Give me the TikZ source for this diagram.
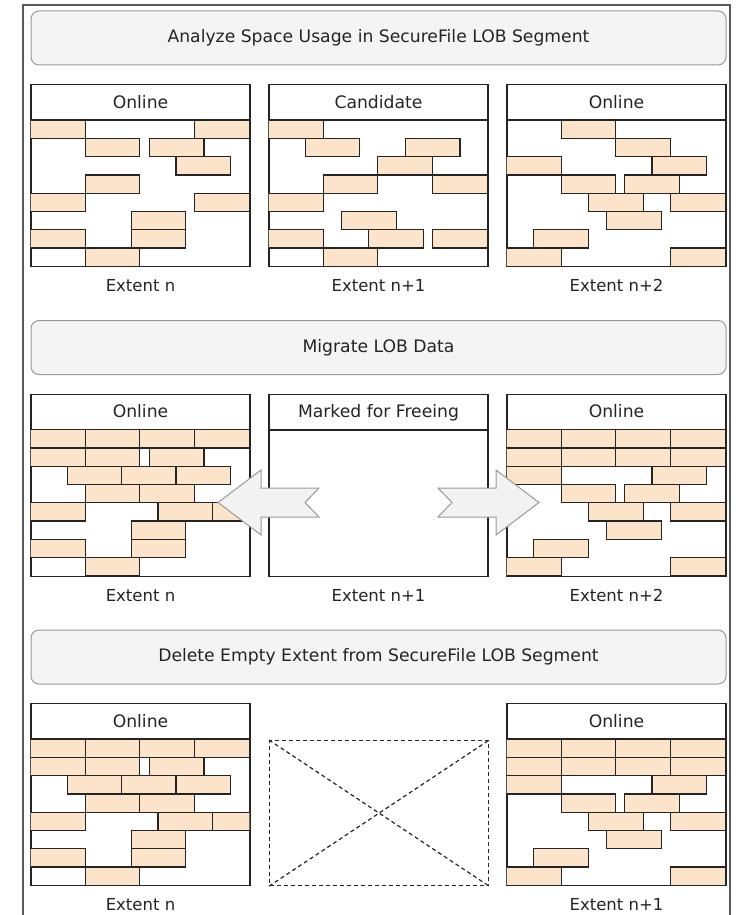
\documentclass[tikz,border=0pt]{standalone}
\usepackage{fontspec}
\setmainfont{DejaVu Sans}
\usetikzlibrary{positioning}
\definecolor{brickfill}{RGB}{252,228,203}
\definecolor{hdrfill}{RGB}{244,244,244}
\definecolor{ink}{RGB}{36,36,36}

\begin{document}
\begin{tikzpicture}[x=1pt,y=-1pt,font=\fontsize{16.5}{20}\selectfont,text=ink]
\tikzstyle{hdr}=[draw=black!40, fill=hdrfill, rounded corners=8pt, line width=1pt, minimum width=695pt, minimum height=54pt, inner sep=0pt, font=\fontsize{17.2}{20}\selectfont]
\tikzstyle{ttl}=[draw=ink, line width=1.2pt, minimum width=219pt, minimum height=35pt, inner sep=0pt, text height=12.5pt, text depth=0pt, font=\fontsize{17.2}{20}\selectfont]
\tikzstyle{body}=[draw=ink, line width=1.2pt, minimum width=219pt, minimum height=146pt, inner sep=0pt]
\tikzstyle{lbl}=[inner sep=0pt, text height=12pt, text depth=0pt]
\tikzstyle{brick}=[draw=ink, fill=brickfill, line width=1.1pt]
\tikzstyle{blk}=[draw=black!40, fill=black!5, line width=1pt]
\useasboundingbox (0,0) rectangle (738,915);
\draw[black!65, line width=1.5pt] (23,915) -- (23,5) -- (730,5) -- (730,915);

% step headers
\node[hdr] (h1) at (378.5,38) {Analyze Space Usage in SecureFile LOB Segment};
\node[hdr] (h2) at (378.5,347.5) {Migrate LOB Data};
\node[hdr] (h3) at (378.5,657) {Delete Empty Extent from SecureFile LOB Segment};

% row 1
\node[ttl, anchor=north] (t11) at (140.5,84) {Online};
\node[body, anchor=north] (b11) at (t11.south) {};
\node[lbl, below=12pt of b11] (e11) {Extent n};
\begin{scope}[shift={(b11.north west)}]
\clip (0,0) rectangle (219,146);
\foreach \i/\j in {0/0,0/3,1/1,1/2.17,2/2.66,3/1,4/0,4/3,5/1.84,6/0,6/1.84,7/1}
	\draw[brick] (\j*54.75,\i*18.25) rectangle +(54.75,18.25);
\end{scope}

\node[ttl, anchor=north] (t12) at (378.5,84) {Candidate};
\node[body, anchor=north] (b12) at (t12.south) {};
\node[lbl, below=12pt of b12] (e12) {Extent n+1};
\begin{scope}[shift={(b12.north west)}]
\clip (0,0) rectangle (219,146);
\foreach \i/\j in {0/0,1/0.67,1/2.5,2/2,3/1,3/3,4/0,5/1.34,6/0,6/1.83,6/3,7/1}
	\draw[brick] (\j*54.75,\i*18.25) rectangle +(54.75,18.25);
\end{scope}

\node[ttl, anchor=north] (t13) at (616.5,84) {Online};
\node[body, anchor=north] (b13) at (t13.south) {};
\node[lbl, below=12pt of b13] (e13) {Extent n+2};
\begin{scope}[shift={(b13.north west)}]
\clip (0,0) rectangle (219,146);
\foreach \i/\j in {0/1,1/2,2/0,2/2.66,3/1,3/2.16,4/1.5,4/3,5/1.83,6/0.5,7/0,7/3}
	\draw[brick] (\j*54.75,\i*18.25) rectangle +(54.75,18.25);
\end{scope}

% row 2
\node[ttl, anchor=north] (t21) at (140.5,393.5) {Online};
\node[body, anchor=north] (b21) at (t21.south) {};
\node[lbl, below=12pt of b21] (e21) {Extent n};
\begin{scope}[shift={(b21.north west)}]
\clip (0,0) rectangle (219,146);
\foreach \i/\j in {0/0,0/1,0/2,0/3,1/0,1/1,1/2.17,2/0.68,2/1.67,2/2.66,3/1,3/2,4/0,4/2.33,4/3.33,5/1.84,6/0,6/1.84,7/1}
	\draw[brick] (\j*54.75,\i*18.25) rectangle +(54.75,18.25);
\end{scope}

\node[ttl, anchor=north] (t22) at (378.5,393.5) {Marked for Freeing};
\node[body, anchor=north] (b22) at (t22.south) {};
\node[lbl, below=12pt of b22] (e22) {Extent n+1};

\node[ttl, anchor=north] (t23) at (616.5,393.5) {Online};
\node[body, anchor=north] (b23) at (t23.south) {};
\node[lbl, below=12pt of b23] (e23) {Extent n+2};
\begin{scope}[shift={(b23.north west)}]
\clip (0,0) rectangle (219,146);
\foreach \i/\j in {0/0,0/1,0/2,0/3,1/0,1/1,1/2,1/3,2/0,2/2.66,3/1,3/2.16,4/1.5,4/3,5/1.83,6/0.5,7/0,7/3}
	\draw[brick] (\j*54.75,\i*18.25) rectangle +(54.75,18.25);
\end{scope}

% block arrows out of the freed extent
\draw[blk] (218,502.5) -- (261,470) -- (261,488) -- (319,488) -- (305,502.5) -- (319,517) -- (261,517) -- (261,535) -- cycle;
\draw[blk] (539,502.5) -- (496,470) -- (496,488) -- (438,488) -- (452,502.5) -- (438,517) -- (496,517) -- (496,535) -- cycle;

% row 3
\node[ttl, anchor=north] (t31) at (140.5,703) {Online};
\node[body, anchor=north] (b31) at (t31.south) {};
\node[lbl, below=12pt of b31] (e31) {Extent n};
\begin{scope}[shift={(b31.north west)}]
\clip (0,0) rectangle (219,146);
\foreach \i/\j in {0/0,0/1,0/2,0/3,1/0,1/1,1/2.17,2/0.68,2/1.67,2/2.66,3/1,3/2,4/0,4/2.33,4/3.33,5/1.84,6/0,6/1.84,7/1}
	\draw[brick] (\j*54.75,\i*18.25) rectangle +(54.75,18.25);
\end{scope}

\node[draw=black!85, dash pattern=on 4pt off 3pt, line width=1.2pt, minimum width=219pt, minimum height=145pt, inner sep=0pt, anchor=north west] (gone) at (269,740) {};
\draw[black!85, dash pattern=on 4pt off 3pt, line width=1.2pt] (gone.north west) -- (gone.south east) (gone.south west) -- (gone.north east);

\node[ttl, anchor=north] (t33) at (616.5,703) {Online};
\node[body, anchor=north] (b33) at (t33.south) {};
\node[lbl, below=12pt of b33] (e33) {Extent n+1};
\begin{scope}[shift={(b33.north west)}]
\clip (0,0) rectangle (219,146);
\foreach \i/\j in {0/0,0/1,0/2,0/3,1/0,1/1,1/2,1/3,2/0,2/2.66,3/1,3/2.16,4/1.5,4/3,5/1.83,6/0.5,7/0,7/3}
	\draw[brick] (\j*54.75,\i*18.25) rectangle +(54.75,18.25);
\end{scope}
\end{tikzpicture}
\end{document}
